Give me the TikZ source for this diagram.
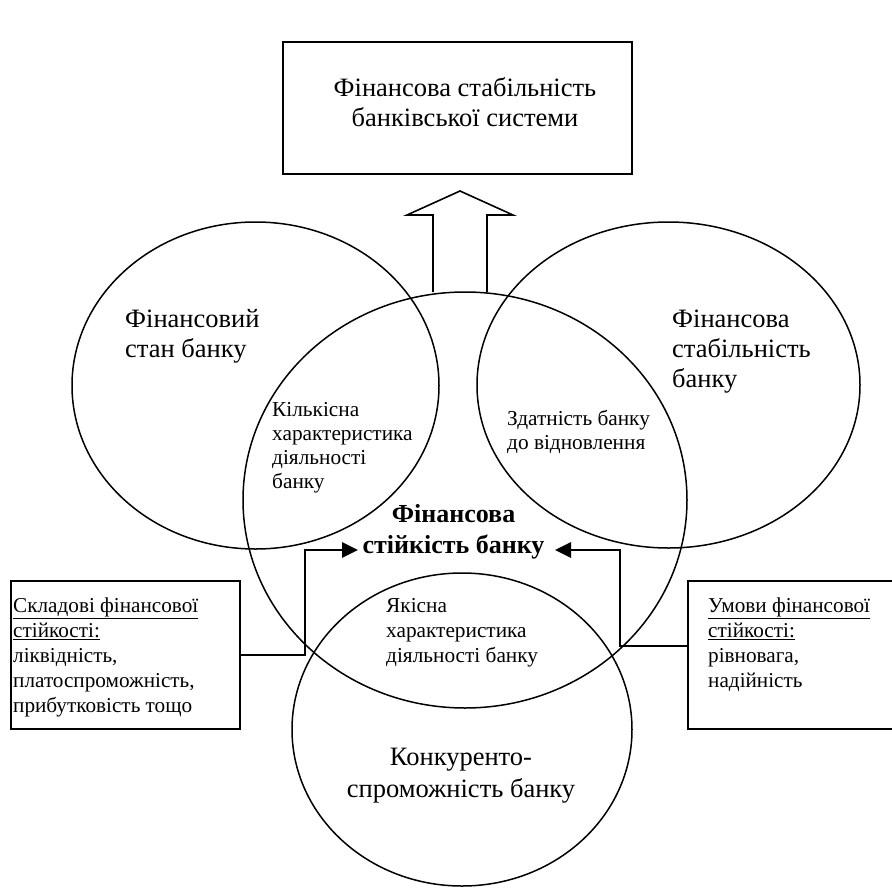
\documentclass[tikz,border=0pt]{standalone}
\usepackage{fontspec}
\setmainfont{Liberation Serif}
\usetikzlibrary{arrows.meta,shapes.geometric}

\tikzset{
  circ/.style={draw, ellipse, line width=1.5pt, inner sep=0pt},
  frame/.style={draw, line width=1.6pt, inner sep=0pt},
  bigtxt/.style={inner sep=0pt, font=\fontsize{26.5}{30}\selectfont},
  smalltxt/.style={inner sep=0pt, font=\fontsize{21.3}{24}\selectfont},
  boxtxt/.style={inner sep=0pt, font=\fontsize{21.2}{25}\selectfont},
  link/.style={line width=2.8pt, -{Triangle[length=16pt,width=15pt]}},
}

\begin{document}
\begin{tikzpicture}[x=1pt,y=-1pt]
\useasboundingbox (0,0) rectangle (892,887);

% top box (text anchored at the baseline of its last line)
\node[frame, minimum width=349pt, minimum height=132pt] (sys) at (457.5,108) {};
\node[bigtxt, align=center, anchor=base] (systxt) at (465,126)
  {Фінансова стабільність\\банківської системи};

% hollow arrow pointing up to the top box
\draw[line width=1.6pt, line join=miter] (433,292) -- (433,215) -- (407,215) -- (460,191)
  -- (513,215) -- (487,215) -- (487,292);

% four overlapping ellipses
\node[circ, minimum width=367pt, minimum height=327pt] (state) at (255.5,385.5) {};
\node[circ, minimum width=383pt, minimum height=326pt] (stab) at (668.5,385) {};
\node[circ, minimum width=444pt, minimum height=416pt] (firm) at (465,500) {};
\node[circ, minimum width=340pt, minimum height=313pt] (comp) at (462,729.5) {};

% ellipse labels
\node[bigtxt, align=left, anchor=base west] (statetxt) at (125,357)
  {Фінансовий\\стан банку};
\node[bigtxt, align=left, anchor=base west] (stabtxt) at (672,387)
  {Фінансова\\стабільність\\банку};
\node[inner sep=0pt, align=center, anchor=base, font=\fontsize{26.5}{32}\selectfont]
  (comptxt) at (461,797) {Конкуренто-\\спроможність банку};
\node[inner sep=0pt, align=center, anchor=base, font=\fontsize{26}{31}\selectfont\bfseries]
  (firmtxt) at (453.5,553) {Фінансова\\стійкість банку};

% labels of the overlaps
\node[smalltxt, align=left, anchor=base west] (quant) at (272,488)
  {Кількісна\\характеристика\\діяльності\\банку};
\node[smalltxt, align=left, anchor=base west] (recov) at (507,449)
  {Здатність банку\\до відновлення};
\node[inner sep=0pt, font=\fontsize{21.3}{25}\selectfont, align=left, anchor=base west]
  (qual) at (386,662) {Якісна\\характеристика\\діяльності банку};

% side boxes; the right one runs off the page, so its right side is not drawn
\node[frame, minimum width=229pt, minimum height=148pt] (parts) at (125.5,655) {};
\node[boxtxt, align=left, anchor=base west] (partstxt) at (13,712)
  {\underline{Складові фінансової}\\\underline{стійкості:}\\ліквідність,\\платоспроможність,\\прибутковість тощо};
\node[inner sep=0pt, minimum width=222pt, minimum height=148pt] (cond) at (799,655) {};
\draw[line width=1.6pt] (cond.north east) -- (cond.north west) -- (cond.south west)
  -- (cond.south east);
\node[boxtxt, align=left, anchor=base west] (condtxt) at (708,687)
  {\underline{Умови фінансової}\\\underline{стійкості:}\\рівновага,\\надійність};

% connectors into the central label
\coordinate (ltip) at (358,550);
\coordinate (rtip) at (555,550);
\coordinate (rstart) at (688,646);
\draw[link] (parts.east) -- (305,655) -- (305,550) -- (ltip);
\draw[link] (rstart) -- (620,646) -- (620,550) -- (rtip);
\end{tikzpicture}
\end{document}
